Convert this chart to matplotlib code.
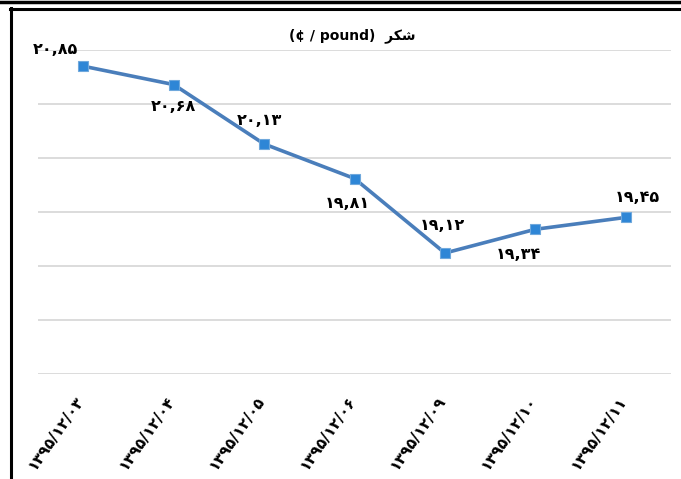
import matplotlib
matplotlib.use("Agg")
from matplotlib import pyplot as plt
from matplotlib.lines import Line2D
from matplotlib.transforms import ScaledTranslation

# تاریخ‌ها و قیمت شکر (سنت بر پوند)
dates = ["۱۳۹۵/۱۲/۰۳", "۱۳۹۵/۱۲/۰۴", "۱۳۹۵/۱۲/۰۵", "۱۳۹۵/۱۲/۰۶",
         "۱۳۹۵/۱۲/۰۹", "۱۳۹۵/۱۲/۱۰", "۱۳۹۵/۱۲/۱۱"]
prices = [20.85, 20.68, 20.13, 19.81, 19.12, 19.34, 19.45]
price_labels = ["۲۰,۸۵", "۲۰,۶۸", "۲۰,۱۳", "۱۹,۸۱", "۱۹,۱۲", "۱۹,۳۴", "۱۹,۴۵"]
# offset of each value label from its point (points)
label_offsets = [(-20, 12), (0, -16), (-3, 17), (-5, -18), (-2, 20), (-12, -18), (8, 14)]

# "شکر" shaped by hand and reversed, matplotlib draws left to right
title = "(¢ / pound)  " + "\uFEAE\uFB91\uFEB7"

fig = plt.figure(figsize=(6.81, 4.79), dpi=100)
ax = fig.add_axes([38 / 681, 1 - 374 / 479, 633 / 681, 324 / 479])

x = list(range(len(dates)))
ax.plot(x, prices, color="#4a7ebb", lw=2.6, zorder=3)
ax.plot(x, prices, ls="none", marker="s", ms=6.5, mfc="#2e86d6",
        mec="#6fa8dc", mew=0.8, zorder=4)

for i, (p, lab) in enumerate(zip(prices, price_labels)):
    ax.annotate(lab, (i, p), xytext=label_offsets[i], textcoords="offset points",
                ha="center", va="center", fontsize=11.5, fontweight="bold",
                family="DejaVu Sans")

ax.set_xlim(-0.5, len(dates) - 0.5)
ax.set_ylim(18.0, 21.0)
ax.set_yticks([18.0, 18.5, 19.0, 19.5, 20.0, 20.5, 21.0])
ax.yaxis.grid(True, color="#d9d9d9", lw=1.3)
ax.set_axisbelow(True)
ax.tick_params(axis="y", left=False, labelleft=False)
ax.tick_params(axis="x", length=0, pad=14)
ax.set_xticks(x, dates, rotation=55, ha="right", rotation_mode="anchor",
              fontsize=11, fontweight="bold")
shift = ScaledTranslation(-6 / 72, 0, fig.dpi_scale_trans)
for t in ax.get_xticklabels():
    t.set_transform(t.get_transform() + shift)
for s in ax.spines.values():
    s.set_visible(False)

fig.text(352 / 681, 1 - 36 / 479, title, ha="center", va="center",
         fontsize=10, fontweight="bold")

# black frame lines of the screenshot
fig.add_artist(Line2D([0, 1], [1 - 1.5 / 479] * 2, color="black", lw=2.5))
fig.add_artist(Line2D([10 / 681, 1], [1 - 9 / 479] * 2, color="black", lw=2.2))
fig.add_artist(Line2D([11 / 681] * 2, [0, 1 - 8 / 479], color="black", lw=2.2))

fig.savefig("out.png", dpi=100)
